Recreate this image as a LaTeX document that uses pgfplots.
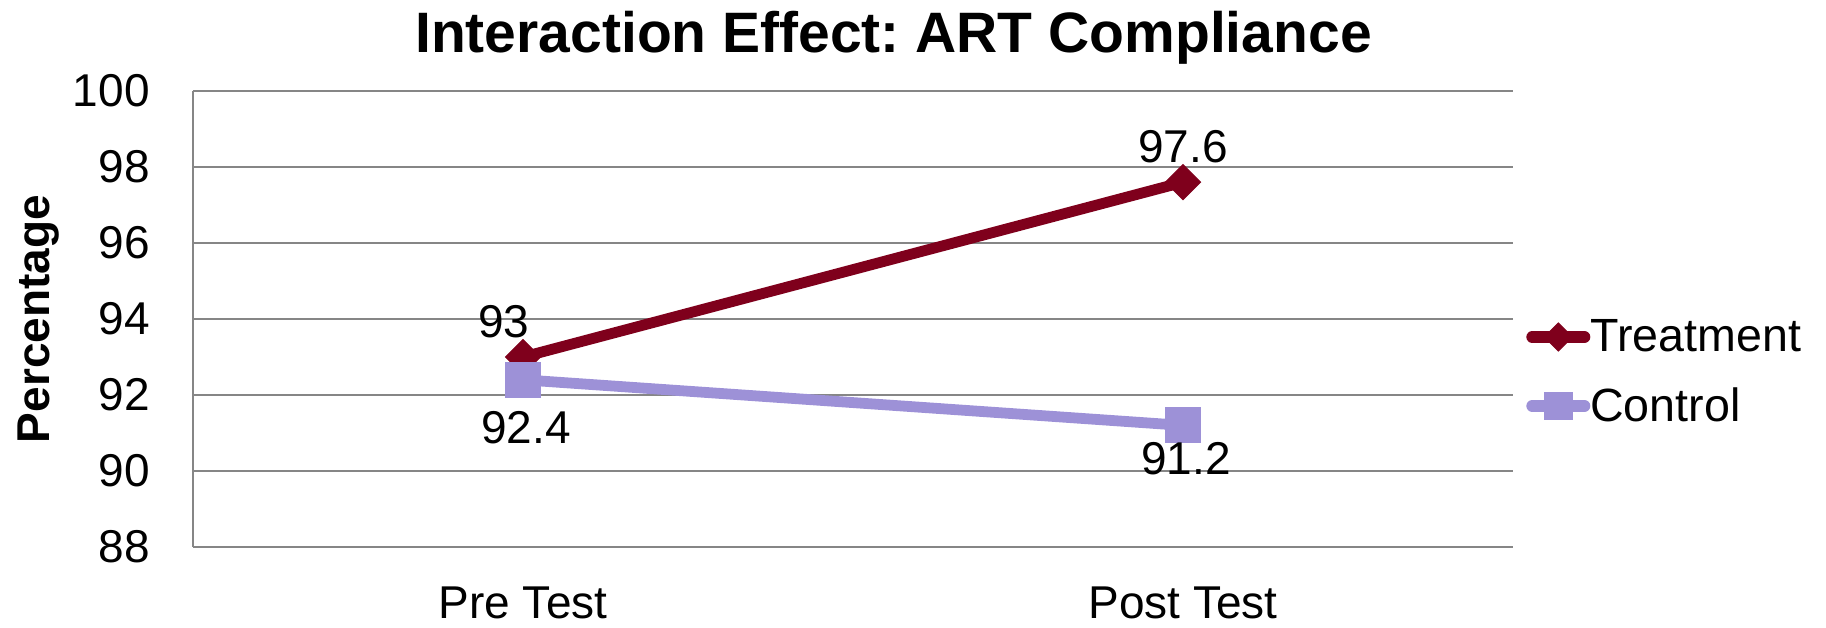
\documentclass[border=0pt]{standalone}
\usepackage{pgfplots}
\pgfplotsset{compat=1.18}
\usepackage{fontspec}
\setmainfont{Liberation Sans}
\frenchspacing
\definecolor{trt}{RGB}{127,0,28}
\definecolor{ctl}{RGB}{157,145,215}
\definecolor{gridc}{RGB}{134,134,134}
\newcommand{\lblfont}{\fontsize{23}{27}\selectfont}
\begin{document}
\begin{tikzpicture}
\path[use as bounding box] (0,0) rectangle (913pt,313.5pt);
\begin{axis}[
 at={(96.5pt,40pt)}, anchor=south west,
 scale only axis, width=660pt, height=228pt,
 xmin=-0.5, xmax=1.5, ymin=88, ymax=100,
 xtick={0,1}, xticklabels={Pre Test, Post Test},
 ytick={88,90,...,100},
 ymajorgrids, grid style={gridc, line width=1.3pt},
 axis x line*=bottom, axis y line*=left,
 axis line style={gridc, line width=1.3pt, -},
 major tick length=0pt,
 clip=false,
 /pgf/number format/assume math mode=true,
 tick label style={font=\lblfont},
 yticklabel style={anchor=east, inner sep=0pt, xshift=-21.5pt},
 xticklabel style={anchor=north, inner sep=0pt, yshift=-19.5pt},
 ylabel={Percentage},
 every axis y label/.style={at={(axis description cs:-0.1167,0.5)}, rotate=90, anchor=center, font=\bfseries\fontsize{23}{27}\selectfont},
 title={Interaction Effect: ART Compliance},
 every axis title/.style={at={(axis description cs:0.5307,1.0855)}, anchor=base, inner sep=0pt, font=\bfseries\fontsize{28.5}{32}\selectfont},
 legend style={at={(axis description cs:1.0098,0.384)}, anchor=west, draw=none, fill=none, inner sep=0pt, row sep=16.5pt, font=\fontsize{23.3}{27}\selectfont, nodes={inner sep=0pt}},
 legend cell align=left,
 legend image code/.code={
   \draw[#1, line width=6pt, line cap=round, mark=none] (3pt,0pt) -- (29pt,0pt);
   \draw[#1, /tikz/every mark/.append style={scale=0.8}] plot coordinates {(16pt,0pt)};
 },
]
\addplot[trt, line width=5.4pt, mark=square*, mark size=6.2pt, mark options={rotate=45, line width=0.5pt, fill=trt, draw=trt, solid}] coordinates {(0,93) (1,97.6)};
\addlegendentry{Treatment}
\addplot[ctl, line width=5.4pt, mark=square*, mark size=8.7pt, mark options={line width=0.5pt, fill=ctl, draw=ctl, solid}] coordinates {(0,92.4) (1,91.2)};
\addlegendentry{Control}
% data labels
\addplot[draw=none, mark=none, forget plot, point meta=y, nodes near coords,
  every node near coord/.append style={anchor=south, inner sep=0pt, yshift=9.5pt, xshift=-9.5pt, font=\lblfont, text=black}] coordinates {(0,93)};
\addplot[draw=none, mark=none, forget plot, point meta=y, nodes near coords,
  every node near coord/.append style={anchor=south, inner sep=0pt, yshift=9.5pt, font=\lblfont, text=black}] coordinates {(1,97.6)};
\addplot[draw=none, mark=none, forget plot, point meta=y, nodes near coords,
  every node near coord/.append style={anchor=north, inner sep=0pt, yshift=-15.5pt, xshift=1.5pt, font=\lblfont, text=black}] coordinates {(0,92.4)};
\addplot[draw=none, mark=none, forget plot, point meta=y, nodes near coords,
  every node near coord/.append style={anchor=north, inner sep=0pt, yshift=-8.5pt, xshift=1.5pt, font=\lblfont, text=black}] coordinates {(1,91.2)};
\end{axis}
\end{tikzpicture}
\end{document}
